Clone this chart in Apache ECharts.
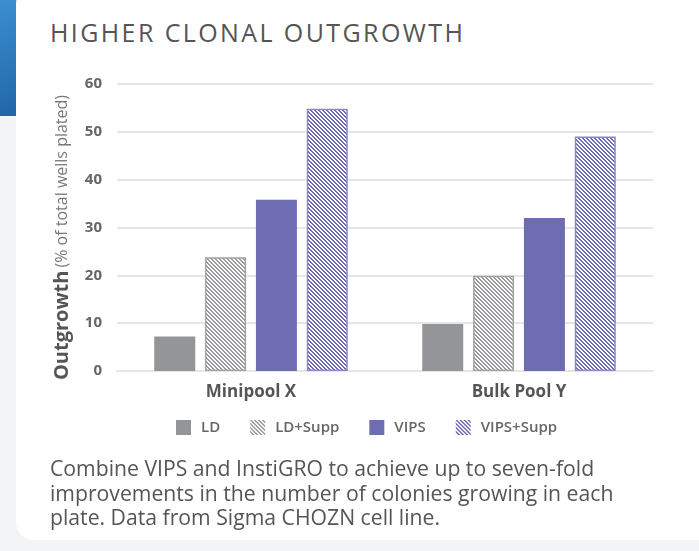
<!DOCTYPE html>
<html>
<head>
<meta charset="utf-8">
<script src="https://cdn.jsdelivr.net/npm/echarts@6/dist/echarts.min.js"></script>
<style>
    html, body { margin: 0; padding: 0; }
    body { width: 699px; height: 551px; background: #f3f4f6; position: relative; overflow: hidden; font-family: 'Open Sans', sans-serif; }
    #blue { position: absolute; left: 0; top: 0; width: 30px; height: 116px; background: linear-gradient(160deg, #3b8fd0, #1f64a6); }
    #card { position: absolute; left: 16px; top: -14px; width: 720px; height: 554px; background: #fff; border-radius: 18px; }
    #title { position: absolute; left: 50px; top: 15px; font-size: 25px; letter-spacing: 2.4px; color: #555; white-space: nowrap; }
    #caption { position: absolute; left: 50px; top: 456px; width: 600px; font-size: 21.2px; line-height: 24.5px; color: #555; }
    #main { position: absolute; left: 0; top: 0; width: 699px; height: 551px; }
</style>
</head>
<body>
<div id="blue"></div>
<div id="card"></div>
<div id="title">HIGHER CLONAL OUTGROWTH</div>
<div id="main"></div>
<div id="caption">Combine VIPS and InstiGRO to achieve up to seven-fold improvements in the number of colonies growing in each plate. Data from Sigma CHOZN cell line.</div>
<script>
var categories = ['Minipool X', 'Bulk Pool Y'];
var ld = [7.2, 9.8];
var ldSupp = [23.8, 19.9];
var vips = [35.8, 32];
var vipsSupp = [54.8, 49];

// diagonal hatch tile
function stripes(color){
    var c = document.createElement('canvas');
    c.width = 4; c.height = 4;
    var ctx = c.getContext('2d');
    ctx.fillStyle = '#fff';
    ctx.fillRect(0, 0, 4, 4);
    ctx.fillStyle = color;
    for(var i=0;i<4;i++){
        ctx.fillRect(i, i, 1, 1);
        ctx.fillRect((i+1)%4, i, 1, 1);
    }
    return {image: c, repeat: 'repeat'};
}

var chart = echarts.init(document.getElementById('main'));
var option = {
    textStyle: {fontFamily: 'Open Sans'},
    grid: {left: 117, right: 46, top: 84, bottom: 180},
    legend: {
        left: 171,
        top: 415,
        itemWidth: 15,
        itemHeight: 15,
        itemGap: 30,
        icon: 'rect',
        itemStyle: {borderWidth: 0},
        textStyle: {fontSize: 15, color: '#666', fontWeight: 600, padding: [0, 0, 0, 5]},
        data: ['LD', 'LD+Supp', 'VIPS', 'VIPS+Supp']
    },
    xAxis: {
        type: 'category',
        data: categories,
        axisTick: {show: false},
        axisLine: {lineStyle: {color: '#e6e6e6', width: 2}},
        axisLabel: {fontSize: 17, fontWeight: 'bold', color: '#555', margin: 13}
    },
    yAxis: {
        type: 'value',
        min: 0,
        max: 60,
        interval: 10,
        name: '{b|Outgrowth} {r|(% of total wells plated)}',
        nameLocation: 'middle',
        nameGap: 45,
        nameRotate: 90,
        nameTextStyle: {
            padding: [0, 20, 0, 0],
            rich: {
                b: {fontSize: 20, fontWeight: 'bold', color: '#555'},
                r: {fontSize: 16, color: '#777'}
            }
        },
        axisLine: {show: false},
        axisTick: {show: false},
        axisLabel: {fontSize: 15, fontWeight: 'bold', color: '#666', margin: 15},
        splitLine: {lineStyle: {color: '#e6e6e6', width: 2}}
    },
    series: [
        {name: 'LD', type: 'bar', data: ld, barWidth: 41, barGap: '24%', itemStyle: {color: '#939598'}},
        {name: 'LD+Supp', type: 'bar', data: ldSupp, barWidth: 41, itemStyle: {color: stripes('#9a9a9c'), borderColor: '#a3a3a5', borderWidth: 1.5}},
        {name: 'VIPS', type: 'bar', data: vips, barWidth: 41, itemStyle: {color: '#6f6db1'}},
        {name: 'VIPS+Supp', type: 'bar', data: vipsSupp, barWidth: 41, itemStyle: {color: stripes('#6f6db1'), borderColor: '#8a88c8', borderWidth: 1.5}}
    ]
};
chart.setOption(option);
</script>
</body>
</html>
